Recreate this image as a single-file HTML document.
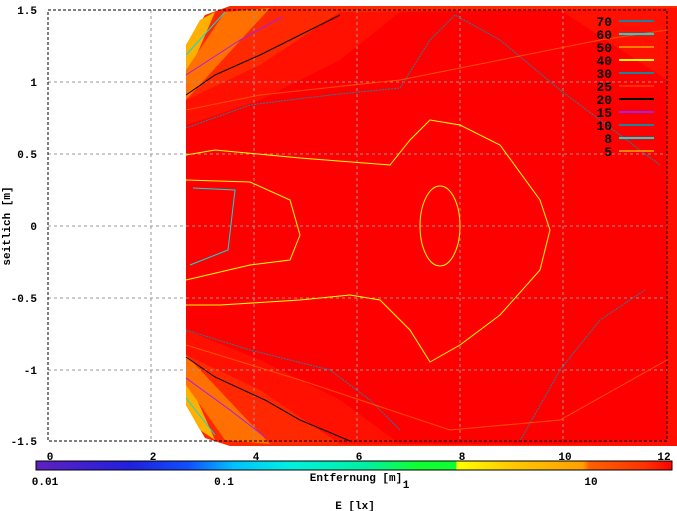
<!DOCTYPE html>
<html><head><meta charset="utf-8"><style>
body{margin:0;background:#fff;}
svg{display:block;font-family:"Liberation Mono",monospace;font-weight:bold;}
</style></head><body>
<svg width="677" height="511" viewBox="0 0 677 511">
<defs>
<linearGradient id="cb" x1="0" x2="1" y1="0" y2="0">
<stop offset="0" stop-color="#6020c0"/>
<stop offset="0.15" stop-color="#2020e0"/>
<stop offset="0.24" stop-color="#1050ff"/>
<stop offset="0.31" stop-color="#00c0ff"/>
<stop offset="0.40" stop-color="#00f0e0"/>
<stop offset="0.52" stop-color="#00f0a0"/>
<stop offset="0.60" stop-color="#10ff30"/>
<stop offset="0.66" stop-color="#10ff30"/>
<stop offset="0.662" stop-color="#ffff00"/>
<stop offset="0.75" stop-color="#ffc800"/>
<stop offset="0.86" stop-color="#ffa000"/>
<stop offset="0.87" stop-color="#ff6000"/>
<stop offset="0.96" stop-color="#ff3000"/>
<stop offset="1" stop-color="#ff0000"/>
</linearGradient>
</defs>
<polygon points="186,45 205,15 230,6 677,6 677,446 230,446 205,438 186,405" fill="#ff2800"/>
<polygon points="186,45 200,20 215,12 186,80" fill="#ffb000"/>
<polygon points="186,405 200,430 215,440 186,375" fill="#ffb000"/>
<polygon points="186,70 225,12 270,8 186,100" fill="#ff7000"/>
<polygon points="186,385 225,440 270,444 186,355" fill="#ff7000"/>
<path d="M186,100 L260,65 L340,12 L677,8 L677,446 L340,444 L260,390 L186,355 Z" fill="#ff1000"/>
<path d="M186,125 L260,100 L340,60 L400,12 L560,10 L667,80 L667,440 L560,444 L400,444 L340,400 L260,360 L186,330 Z" fill="#ff0000"/>
<g stroke="#999" stroke-dasharray="3,3" stroke-width="1">
<line x1="151" y1="10" x2="151" y2="441"/><line x1="254" y1="10" x2="254" y2="441"/><line x1="357" y1="10" x2="357" y2="441"/><line x1="460" y1="10" x2="460" y2="441"/><line x1="563" y1="10" x2="563" y2="441"/>
<line x1="48" y1="82" x2="667" y2="82"/><line x1="48" y1="154" x2="667" y2="154"/><line x1="48" y1="226" x2="667" y2="226"/><line x1="48" y1="298" x2="667" y2="298"/><line x1="48" y1="370" x2="667" y2="370"/>
</g>
<g fill="none" stroke-width="1">
<polyline stroke="#000" points="186,95 215,75 260,55 300,35 340,15"/>
<polyline stroke="#000" points="186,357 215,377 265,400 300,420 350,441"/>
<polyline stroke="#a020f0" points="186,75 240,40 282,17"/>
<polyline stroke="#a020f0" points="186,378 230,410 265,437"/>
<polyline stroke="#00e0e0" points="186,55 225,12"/>
<polyline stroke="#00e0e0" points="186,398 215,435"/>
<polyline stroke="#2080a0" stroke-dasharray="2,1" points="186,128 250,105 330,95 400,88 430,40 455,15 500,40 560,90 660,165"/>
<polyline stroke="#2080a0" stroke-dasharray="2,1" points="186,330 250,350 330,370 370,400 400,430"/>
<polyline stroke="#2080a0" stroke-dasharray="2,1" points="520,441 560,370 600,320 645,290"/>
<polyline stroke="#ff5000" points="186,110 260,95 400,80 600,40 667,30"/>
<polyline stroke="#ff5000" points="186,345 300,380 450,430 560,420 667,360"/>
<polyline stroke="#ffff00" points="186,155 215,150 300,158 390,165 410,140 430,120 460,125 500,145 540,200 550,230 540,270 500,315 460,345 430,362 410,330 380,300 350,295 300,300 220,305 186,305"/>
<polyline stroke="#ffff00" points="186,180 250,182 290,200 300,235 290,260 250,265 186,280"/>
<ellipse stroke="#ffff00" cx="440" cy="226" rx="20" ry="40"/>
<polyline stroke="#00e0e0" points="193,188 235,190 228,250 190,265"/>
</g>
<rect x="0" y="0" width="186" height="10" fill="#fff"/>
<rect x="48" y="10" width="619" height="431" fill="none" stroke="#000" stroke-dasharray="3,2"/>
<g font-size="13" text-anchor="end" fill="#000">
<text x="612" y="26">70</text><text x="612" y="39">60</text><text x="612" y="52">50</text><text x="612" y="65">40</text><text x="612" y="78">30</text><text x="612" y="91">25</text><text x="612" y="104">20</text><text x="612" y="117">15</text><text x="612" y="130">10</text><text x="612" y="143">8</text><text x="612" y="156">5</text>
</g>
<g stroke-width="2">
<line x1="619" y1="21" x2="654" y2="21" stroke="#2080a0"/>
<line x1="619" y1="34" x2="654" y2="34" stroke="#00e0e0"/>
<line x1="619" y1="47" x2="654" y2="47" stroke="#ff8000"/>
<line x1="619" y1="60" x2="654" y2="60" stroke="#ffff00"/>
<line x1="619" y1="73" x2="654" y2="73" stroke="#2080a0"/>
<line x1="619" y1="86" x2="654" y2="86" stroke="#ff3000"/>
<line x1="619" y1="99" x2="654" y2="99" stroke="#000"/>
<line x1="619" y1="112" x2="654" y2="112" stroke="#a020f0"/>
<line x1="619" y1="125" x2="654" y2="125" stroke="#2080a0"/>
<line x1="619" y1="138" x2="654" y2="138" stroke="#00e0e0"/>
<line x1="619" y1="151" x2="654" y2="151" stroke="#ff8000"/>
</g>
<g font-size="11" fill="#000" text-anchor="end">
<text x="37" y="14">1.5</text><text x="37" y="86">1</text><text x="37" y="158">0.5</text><text x="37" y="230">0</text><text x="37" y="302">-0.5</text><text x="37" y="374">-1</text><text x="37" y="445">-1.5</text>
</g>
<text x="10" y="226" font-size="11" transform="rotate(-90 10 226)" text-anchor="middle">seitlich [m]</text>
<g font-size="11" text-anchor="middle">
<text x="50" y="460">0</text><text x="153" y="460">2</text><text x="256" y="460">4</text><text x="359" y="460">6</text><text x="462" y="460">8</text><text x="565" y="460">10</text><text x="664" y="460">12</text>
</g>
<rect x="36" y="461" width="636" height="9" fill="url(#cb)" stroke="#000"/>
<g font-size="11" text-anchor="middle">
<text x="45" y="485">0.01</text><text x="224" y="485">0.1</text><text x="356" y="481">Entfernung [m]</text><text x="406" y="488">1</text><text x="591" y="485">10</text><text x="355" y="509">E [lx]</text>
</g>
</svg>
</body></html>
